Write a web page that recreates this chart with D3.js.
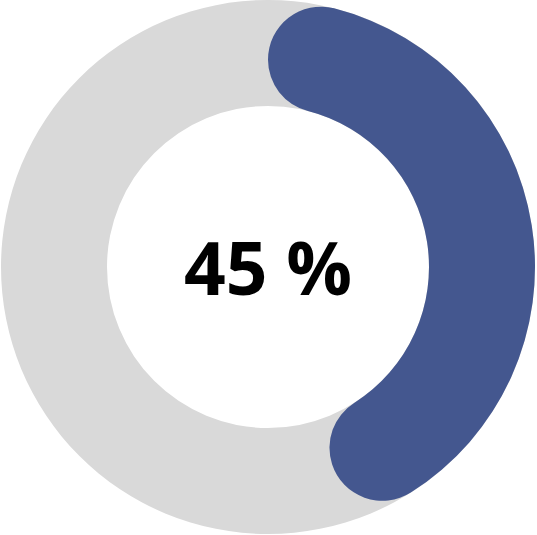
<!DOCTYPE html>
<html>
<head>
<meta charset="utf-8">
<script src="https://cdn.jsdelivr.net/npm/d3@7"></script>
<style>
  body { margin: 0; background: #fff; }
</style>
</head>
<body>
<div id="container"></div>
<script>
// Size of the svg
const width = 537;
const height = 535;

// Gauge data
const labels = ["Done", "Rest"];
const values = [45, 55];
const colors = ["#44578f", "#d9d9d9"];

const svg = d3.select("#container")
    .append("svg")
    .attr("width", width)
    .attr("height", height);

const g = svg.append("g")
    .attr("transform", `translate(268, 267)`);

const outer = 267;
const inner = 161;

// angle scale from percent to radians
const angle = d3.scaleLinear()
    .domain([0, d3.sum(values)])
    .range([0, 2 * Math.PI]);

// background ring
g.append("path")
    .attr("fill", colors[1])
    .attr("d", d3.arc()
        .innerRadius(inner)
        .outerRadius(outer)
        .startAngle(0)
        .endAngle(2 * Math.PI)());

// value arc with round ends
g.append("path")
    .attr("fill", colors[0])
    .attr("d", d3.arc()
        .innerRadius(inner)
        .outerRadius(outer)
        .cornerRadius((outer - inner) / 2)
        .startAngle(0)
        .endAngle(angle(values[0]))());

// label in the middle
g.append("text")
    .attr("text-anchor", "middle")
    .attr("y", 28)
    .style("font-family", "'Open Sans', sans-serif")
    .style("font-weight", "bold")
    .style("font-size", "73px")
    .attr("fill", "#000")
    .text(`${values[0]} %`);
</script>
</body>
</html>
